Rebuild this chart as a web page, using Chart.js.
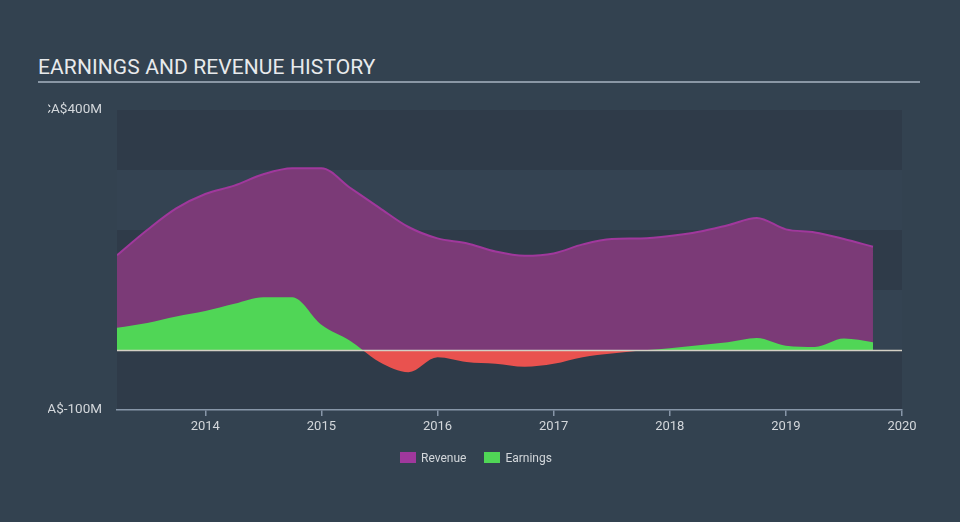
<!DOCTYPE html>
<html>
<head>
<meta charset="utf-8">
<script src="https://cdn.jsdelivr.net/npm/chart.js@4.4.1/dist/chart.umd.min.js"></script>
<style>
  html, body { margin: 0; padding: 0; background: #334250; }
  body { width: 960px; height: 522px; position: relative; overflow: hidden; font-family: Roboto, sans-serif; }
  #title { position: absolute; left: 38px; top: 55px; color: #e8eaec; font-size: 21px; letter-spacing: 0.1px; }
  #rule { position: absolute; left: 38px; top: 81px; width: 882px; height: 2px; background: #8a97a5; }
  #legend { position: absolute; top: 451px; left: 400px; font-size: 12px; color: #d3d7db; display: flex; }
  #legend span.box { display: inline-block; width: 16px; height: 11px; margin-right: 5px; vertical-align: -1px; }
  #legend div { margin-right: 18px; }
  canvas { position: absolute; left: 0; top: 0; }
</style>
</head>
<body>
<div id="title">EARNINGS AND REVENUE HISTORY</div>
<div id="rule"></div>
<canvas id="chart" width="960" height="522"></canvas>
<div id="legend">
  <div><span class="box" style="background:#a0389c"></span>Revenue</div>
  <div><span class="box" style="background:#50d656"></span>Earnings</div>
</div>
<script>
// quarterly dates (decimal years), values in CA$ millions
const dates = [2013.24, 2013.5, 2013.75, 2014.0, 2014.25, 2014.5, 2014.75, 2015.0, 2015.25, 2015.5,
  2015.75, 2016.0, 2016.25, 2016.5, 2016.75, 2017.0, 2017.25, 2017.5, 2017.75, 2018.0,
  2018.25, 2018.5, 2018.75, 2019.0, 2019.25, 2019.5, 2019.75];
const revenue = [158, 200, 236, 260, 274, 293, 303, 303, 270, 237,
  205, 186, 178, 164, 157, 161, 176, 185, 186, 190,
  197, 208, 220, 201, 196, 185, 172];
const earnings = [37, 45, 56, 65, 77, 88, 88, 42, 15, -20,
  -37, -12, -20, -23, -28, -23, -12, -6, -1, 3,
  8, 13, 20, 7, 5, 19, 13];
const yTickLabels = [[400, 'CA$400M'], [-100, 'CA$-100M']];

const pts = arr => arr.map((v, i) => ({ x: dates[i], y: v }));

const bands = {
  id: 'bands',
  beforeDraw(chart) {
    const { ctx, chartArea: a, scales: { y } } = chart;
    ctx.save();
    for (let v = -100, i = 0; v < 400; v += 100, i++) {
      ctx.fillStyle = i % 2 === 0 ? '#2f3b49' : '#344352';
      const top = y.getPixelForValue(v + 100), bot = y.getPixelForValue(v);
      ctx.fillRect(a.left, top, a.right - a.left, bot - top);
    }
    ctx.restore();
  },
  afterDatasetsDraw(chart) {
    const { ctx, chartArea: a, scales: { y } } = chart;
    const y0 = Math.round(y.getPixelForValue(0)) + 0.5;
    ctx.save();
    ctx.strokeStyle = '#d3cfc4';
    ctx.lineWidth = 1.5;
    ctx.beginPath();
    ctx.moveTo(a.left, y0);
    ctx.lineTo(a.right, y0);
    ctx.stroke();
    // y labels, clipped on the left like the original
    ctx.beginPath();
    ctx.rect(48, 0, 200, 522);
    ctx.clip();
    ctx.fillStyle = '#d3d7db';
    ctx.font = '13.5px Roboto';
    ctx.textAlign = 'right';
    ctx.textBaseline = 'middle';
    yTickLabels.forEach(([v, t]) => ctx.fillText(t, 102, y.getPixelForValue(v)));
    ctx.restore();
  }
};

new Chart(document.getElementById('chart'), {
  type: 'line',
  data: {
    datasets: [
      {
        label: 'Earnings',
        data: pts(earnings),
        order: 0,
        borderWidth: 0,
        borderColor: 'rgba(0,0,0,0)',
        pointRadius: 0,
        cubicInterpolationMode: 'monotone',
        fill: { target: 'origin', above: '#50d656', below: '#e9524f' }
      },
      {
        label: 'Revenue',
        data: pts(revenue),
        order: 1,
        borderWidth: 2,
        borderColor: '#a0389c',
        backgroundColor: '#7b3a77',
        pointRadius: 0,
        cubicInterpolationMode: 'monotone',
        fill: 'origin'
      }
    ]
  },
  options: {
    responsive: false,
    animation: false,
    layout: { padding: { left: 117, right: 58, top: 110, bottom: 0 } },
    plugins: { legend: { display: false }, tooltip: { enabled: false } },
    scales: {
      x: {
        type: 'linear',
        min: 2013.24,
        max: 2020,
        border: { display: true, color: '#8796a8', width: 1.5 },
        grid: { drawOnChartArea: false, drawTicks: true, tickLength: 6, color: '#8796a8', lineWidth: 1.5 },
        ticks: {
          stepSize: 1,
          includeBounds: false,
          color: '#d3d7db',
          font: { family: 'Roboto', size: 13 },
          padding: 3,
          maxRotation: 0,
          callback: v => String(v)
        },
        afterFit: s => { s.height = 112; }
      },
      y: {
        display: false,
        min: -100,
        max: 400
      }
    }
  },
  plugins: [bands]
});
</script>
</body>
</html>
